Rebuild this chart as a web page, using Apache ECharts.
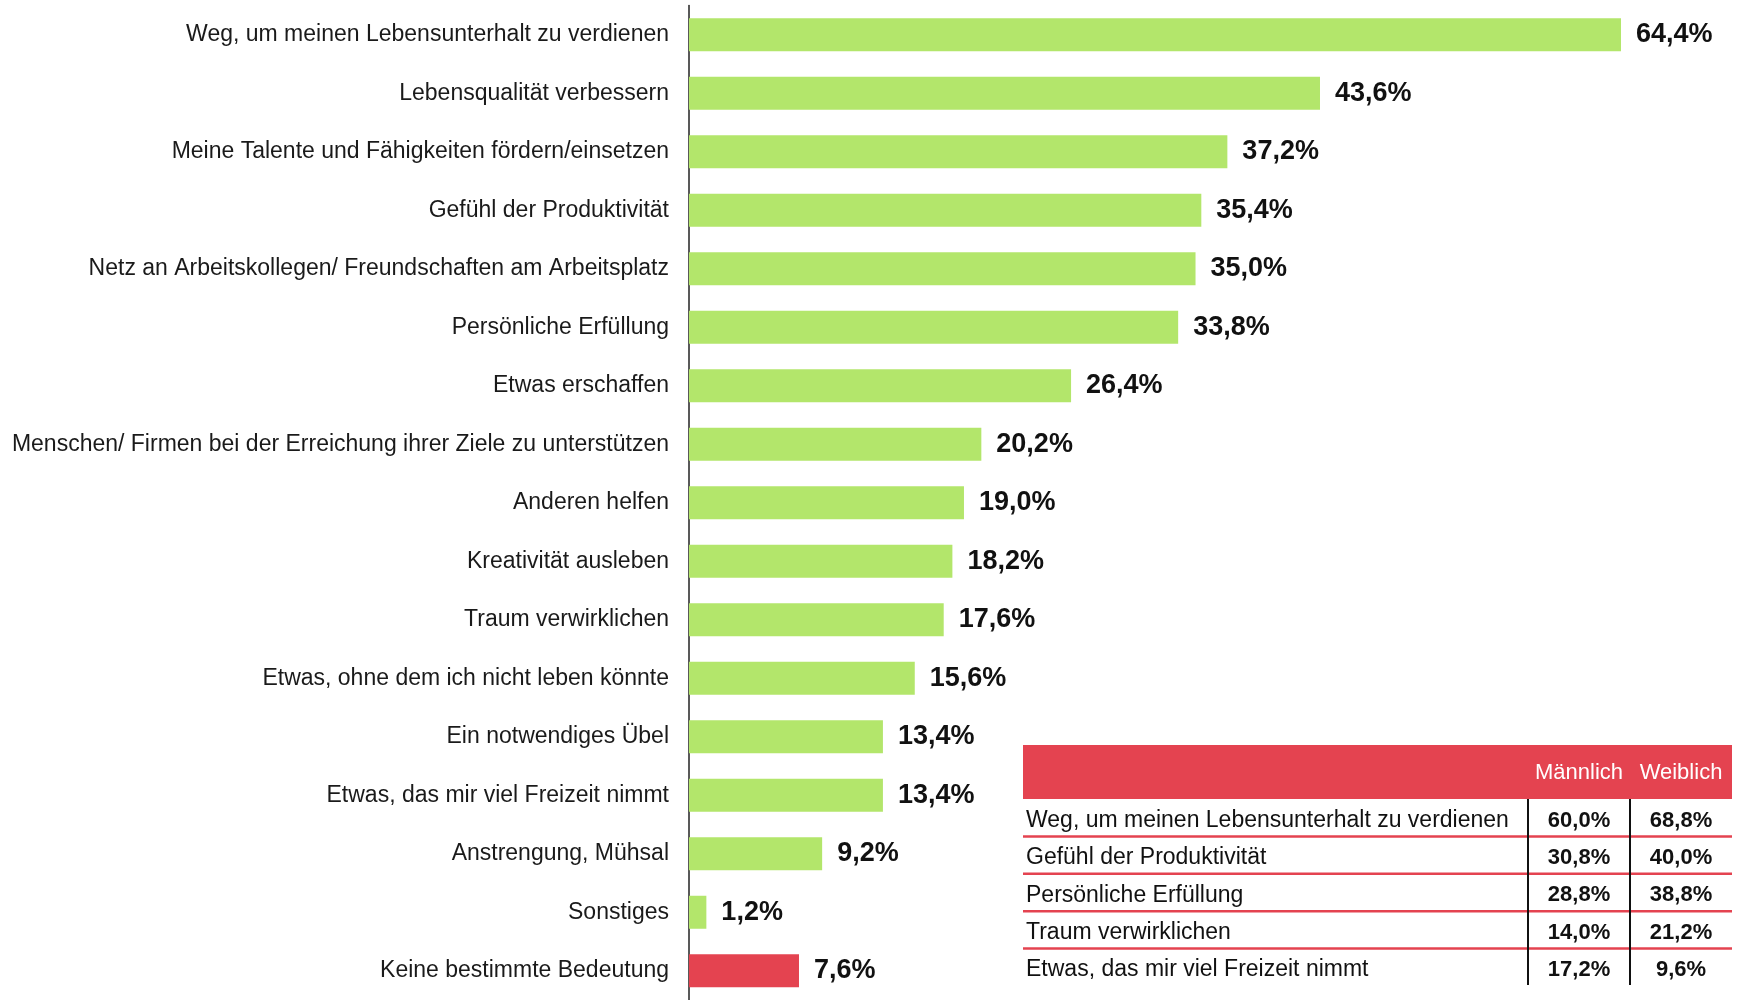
<!DOCTYPE html>
<html>
<head>
<meta charset="utf-8">
<title>Bedeutung der Arbeit</title>
<script src="https://cdn.jsdelivr.net/npm/echarts@6/dist/echarts.min.js"></script>
<style>
html, body { margin: 0; padding: 0; background: #fff; }
#chart { width: 1740px; height: 1000px; }
</style>
</head>
<body>
<div id="chart"></div>
<script>
// Balken: Anteile in Prozent, von oben nach unten
const categories = [
  "Weg, um meinen Lebensunterhalt zu verdienen",
  "Lebensqualität verbessern",
  "Meine Talente und Fähigkeiten fördern/einsetzen",
  "Gefühl der Produktivität",
  "Netz an Arbeitskollegen/ Freundschaften am Arbeitsplatz",
  "Persönliche Erfüllung",
  "Etwas erschaffen",
  "Menschen/ Firmen bei der Erreichung ihrer Ziele zu unterstützen",
  "Anderen helfen",
  "Kreativität ausleben",
  "Traum verwirklichen",
  "Etwas, ohne dem ich nicht leben könnte",
  "Ein notwendiges Übel",
  "Etwas, das mir viel Freizeit nimmt",
  "Anstrengung, Mühsal",
  "Sonstiges",
  "Keine bestimmte Bedeutung"
];
const values = [64.4, 43.6, 37.2, 35.4, 35.0, 33.8, 26.4, 20.2, 19.0, 18.2, 17.6, 15.6, 13.4, 13.4, 9.2, 1.2, 7.6];
const highlightCategory = "Keine bestimmte Bedeutung";

// Tabelle nach Geschlecht
const tableColumns = ["Männlich", "Weiblich"];
const tableRows = [
  "Weg, um meinen Lebensunterhalt zu verdienen",
  "Gefühl der Produktivität",
  "Persönliche Erfüllung",
  "Traum verwirklichen",
  "Etwas, das mir viel Freizeit nimmt"
];
const maleValues = [60.0, 30.8, 28.8, 14.0, 17.2];
const femaleValues = [68.8, 40.0, 38.8, 21.2, 9.6];

const GREEN = "#b3e66b";
const RED = "#e44350";
const FONT = "'Liberation Sans', Arial, sans-serif";

const fmt = (v) => v.toFixed(1).replace(".", ",") + "%";

// Tabelle als graphic-Elemente aufbauen
const buildTable = () => {
  const left = 1023, right = 1732, top = 745, headH = 54, rowH = 37.4;
  const colX = [1579, 1681];
  const sepX = [1528, 1630];
  const bodyTop = top + headH;
  const els = [];
  els.push({
    type: "rect",
    shape: { x: left, y: top, width: right - left, height: headH },
    style: { fill: RED }
  });
  tableColumns.forEach((c, j) => {
    els.push({
      type: "text",
      style: {
        text: c, x: colX[j], y: top + 28, fill: "#fff",
        font: "22px " + FONT, textAlign: "center", textVerticalAlign: "middle"
      }
    });
  });
  const cols = [maleValues, femaleValues];
  tableRows.forEach((r, i) => {
    const cy = bodyTop + i * rowH + 21.5;
    els.push({
      type: "text",
      style: {
        text: r, x: left + 3, y: cy, fill: "#111",
        font: "23px " + FONT, textAlign: "left", textVerticalAlign: "middle"
      }
    });
    cols.forEach((arr, j) => {
      els.push({
        type: "text",
        style: {
          text: fmt(arr[i]), x: colX[j], y: cy, fill: "#111",
          font: "bold 22px " + FONT, textAlign: "center", textVerticalAlign: "middle"
        }
      });
    });
    if (i < tableRows.length - 1) {
      const ly = bodyTop + (i + 1) * rowH;
      els.push({
        type: "line",
        shape: { x1: left, y1: ly, x2: right, y2: ly },
        style: { stroke: RED, lineWidth: 2.5 }
      });
    }
  });
  sepX.forEach((x) => {
    els.push({
      type: "line",
      shape: { x1: x, y1: bodyTop, x2: x, y2: bodyTop + tableRows.length * rowH - 1 },
      style: { stroke: "#111", lineWidth: 2 }
    });
  });
  return els;
};

const myChart = echarts.init(document.getElementById("chart"));

const option = {
  animation: false,
  backgroundColor: "#fff",
  grid: { left: 689, top: 5.6, width: 1042, height: 999 },
  xAxis: {
    type: "value",
    min: 0,
    max: 72,
    show: false
  },
  yAxis: {
    type: "category",
    inverse: true,
    data: categories,
    axisLine: { show: true, lineStyle: { color: "#222", width: 1.5 } },
    axisTick: { show: false },
    axisLabel: { fontSize: 23, color: "#1a1a1a", margin: 20, fontFamily: FONT }
  },
  series: [
    {
      type: "bar",
      barWidth: 33,
      data: values.map((v, i) => ({
        value: v,
        itemStyle: { color: categories[i] === highlightCategory ? RED : GREEN }
      })),
      label: {
        show: true,
        position: "right",
        distance: 15,
        formatter: (p) => fmt(p.value),
        fontSize: 27,
        fontWeight: "bold",
        color: "#111",
        fontFamily: FONT
      }
    }
  ],
  graphic: buildTable()
};

myChart.setOption(option);
</script>
</body>
</html>
